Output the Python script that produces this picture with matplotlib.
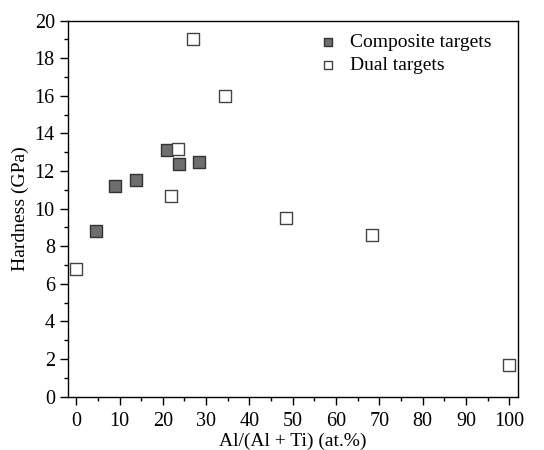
import matplotlib
matplotlib.use("Agg")
from matplotlib import pyplot as plt
from matplotlib.ticker import MultipleLocator

# Al/(Al+Ti) ratio (at.%) and hardness (GPa)
comp_x = [4.6, 8.9, 13.9, 20.9, 23.7, 28.4]
comp_y = [8.8, 11.2, 11.5, 13.1, 12.4, 12.5]

dual_x = [0, 22.0, 23.5, 27.0, 34.4, 48.5, 68.2, 100]
dual_y = [6.8, 10.7, 13.2, 19.0, 16.0, 9.5, 8.6, 1.7]

plt.rcParams['font.family'] = ['Liberation Serif', 'DejaVu Serif']
plt.rcParams['font.size'] = 14

fig = plt.figure(figsize=(5.44, 4.5), dpi=100)
ax = fig.add_axes([0.125, 0.1185, 0.827, 0.8355])

ax.scatter(comp_x, comp_y, marker='s', s=75, facecolor='#6e6e6e',
           edgecolor='#333333', linewidth=1.0, label='Composite targets', zorder=3)
ax.scatter(dual_x, dual_y, marker='s', s=75, facecolor='white',
           edgecolor='#444444', linewidth=1.0, label='Dual targets', zorder=3)

ax.set_xlim(-1.9, 102)
ax.set_ylim(0, 20)
ax.xaxis.set_major_locator(MultipleLocator(10))
ax.xaxis.set_minor_locator(MultipleLocator(5))
ax.yaxis.set_major_locator(MultipleLocator(2))
ax.yaxis.set_minor_locator(MultipleLocator(1))
ax.tick_params(which='both', direction='out', top=False, right=False, width=1.0)
ax.tick_params(which='major', length=6, labelsize=14.5)
ax.tick_params(axis='x', which='major', pad=5)
ax.tick_params(which='minor', length=3)
for sp in ax.spines.values():
    sp.set_linewidth(1.0)

ax.set_xlabel('Al/(Al + Ti) (at.%)', labelpad=1)
ax.set_ylabel('Hardness (GPa)', labelpad=4)

ax.legend(loc='upper left', bbox_to_anchor=(0.543, 0.986), frameon=False,
          handlelength=0.8, handletextpad=0.72, labelspacing=0.25,
          markerscale=0.62, borderaxespad=0)

plt.savefig('out.png', dpi=100, facecolor='#FFFFFF')
plt.close()
